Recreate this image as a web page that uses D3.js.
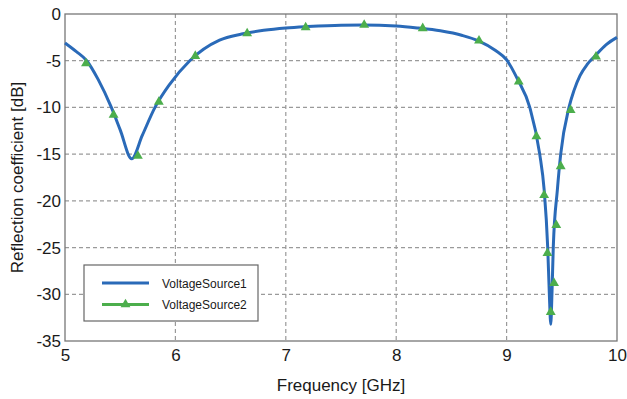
<!DOCTYPE html>
<html><head><meta charset="utf-8">
<script src="https://cdn.jsdelivr.net/npm/d3@7"></script>
<style>body{margin:0;background:#fff;} svg{display:block;font-family:"Liberation Sans",Arial,sans-serif;}</style>
</head><body>
<svg id="c" width="627" height="399"></svg>
<script>
// Data
const series1Freq = [5.0,5.1,5.197,5.3,5.42,5.5,5.604,5.7,5.815,5.95,6.13,6.4,6.6,6.8,7.0,7.2,7.5,7.7,8.0,8.2,8.4,8.6,8.75,8.9,9.0,9.1,9.21,9.3,9.34,9.372,9.387,9.40,9.411,9.423,9.46,9.49,9.565,9.61,9.665,9.73,9.8,9.9,10.0];
const series1dB   = [-3.1,-4.0,-5.0,-7.0,-10.0,-12.4,-15.5,-13.0,-10.0,-7.5,-5.0,-2.8,-2.15,-1.75,-1.5,-1.35,-1.2,-1.18,-1.28,-1.5,-1.8,-2.3,-2.9,-3.9,-4.9,-7.0,-10.0,-15.0,-18.8,-24.9,-29.9,-33.2,-29.9,-24.9,-18.8,-15.0,-10.0,-8.2,-6.6,-5.4,-4.5,-3.3,-2.5];
const series2Freq = [5.19,5.44,5.66,5.85,6.18,6.65,7.18,7.71,8.24,8.75,9.11,9.27,9.34,9.37,9.40,9.43,9.45,9.49,9.58,9.81];
const series2dB   = [-5.3,-10.8,-15.2,-9.4,-4.5,-2.07,-1.43,-1.18,-1.53,-2.85,-7.24,-13.1,-19.4,-25.6,-31.9,-28.8,-22.6,-16.3,-10.3,-4.57];
const xTicks = [5,6,7,8,9,10];
const yTicks = [0,-5,-10,-15,-20,-25,-30,-35];
const seriesNames = ["VoltageSource1","VoltageSource2"];
const xTitle = "Frequency [GHz]";
const yTitle = "Reflection coefficient [dB]";

const blue = "#2a6ab8", green = "#4cae4c";
const L=65,R=617,T=14,B=341;
const svg = d3.select("#c");
const x = d3.scaleLinear().domain([5,10]).range([L,R]);
const y = d3.scaleLinear().domain([-35,0]).range([B,T]);

// grid
const g = svg.append("g");
g.selectAll("line.v").data(xTicks.slice(1,-1)).join("line")
 .attr("x1",d=>x(d)).attr("x2",d=>x(d)).attr("y1",T).attr("y2",B)
 .attr("stroke","#9a9a9a").attr("stroke-width",1.2).attr("stroke-dasharray","4,3");
g.selectAll("line.h").data(yTicks.slice(1,-1)).join("line")
 .attr("y1",d=>y(d)).attr("y2",d=>y(d)).attr("x1",L).attr("x2",R)
 .attr("stroke","#9a9a9a").attr("stroke-width",1.2).attr("stroke-dasharray","4,3");

// frame
svg.append("rect").attr("x",L).attr("y",T).attr("width",R-L).attr("height",B-T)
 .attr("fill","none").attr("stroke","#777").attr("stroke-width",1.3);

// axes (labels only)
const xa = svg.append("g").attr("transform",`translate(0,${B})`)
 .call(d3.axisBottom(x).tickValues(xTicks).tickSize(0).tickPadding(8).tickFormat(d3.format("d")));
xa.select(".domain").remove();
xa.selectAll("text").attr("font-size",17).attr("fill","#1a1a1a").attr("font-family","Liberation Sans, Arial, sans-serif");
const ya = svg.append("g").attr("transform",`translate(${L},0)`)
 .call(d3.axisLeft(y).tickValues(yTicks).tickSize(0).tickPadding(4).tickFormat(d3.format("d")));
ya.select(".domain").remove();
ya.selectAll("text").attr("font-size",17).attr("fill","#1a1a1a").attr("font-family","Liberation Sans, Arial, sans-serif")
 .text(d=>d===0?"0":String(d).replace("−","-"));

svg.append("text").attr("x",(L+R)/2).attr("y",391).attr("text-anchor","middle")
 .attr("font-size",17).attr("fill","#1a1a1a").text(xTitle);
svg.append("text").attr("transform",`translate(23,${(T+B)/2}) rotate(-90)`).attr("text-anchor","middle")
 .attr("font-size",17).attr("fill","#1a1a1a").text(yTitle);

// series
const d1 = series1Freq.map((f,i)=>[f,series1dB[i]]);
const d2 = series2Freq.map((f,i)=>[f,series2dB[i]]);
const line = d3.line().x(d=>x(d[0])).y(d=>y(d[1])).curve(d3.curveMonotoneX);
svg.append("path").attr("d",line(d1)).attr("fill","none").attr("stroke",blue).attr("stroke-width",3).attr("stroke-linejoin","round");
const tri = d3.symbol().type(d3.symbolTriangle).size(42);
svg.selectAll("path.m").data(d2).join("path").attr("class","m")
 .attr("transform",d=>`translate(${x(d[0])},${y(d[1])})`).attr("d",tri).attr("fill",green);

// legend
const lg = svg.append("g");
lg.append("rect").attr("x",84).attr("y",265).attr("width",174).attr("height",56)
 .attr("fill","#fff").attr("stroke","#666").attr("stroke-width",1.2);
const rows=[283,304.5];
lg.append("line").attr("x1",102).attr("x2",149).attr("y1",rows[0]).attr("y2",rows[0]).attr("stroke",blue).attr("stroke-width",3);
lg.append("line").attr("x1",102).attr("x2",149).attr("y1",rows[1]).attr("y2",rows[1]).attr("stroke",green).attr("stroke-width",3);
lg.append("path").attr("transform",`translate(125.5,${rows[1]})`).attr("d",tri).attr("fill",green);
seriesNames.forEach((n,i)=>lg.append("text").attr("x",162).attr("y",rows[i]+4.5).attr("font-size",12).attr("fill","#1a1a1a").text(n));
</script>
</body></html>
